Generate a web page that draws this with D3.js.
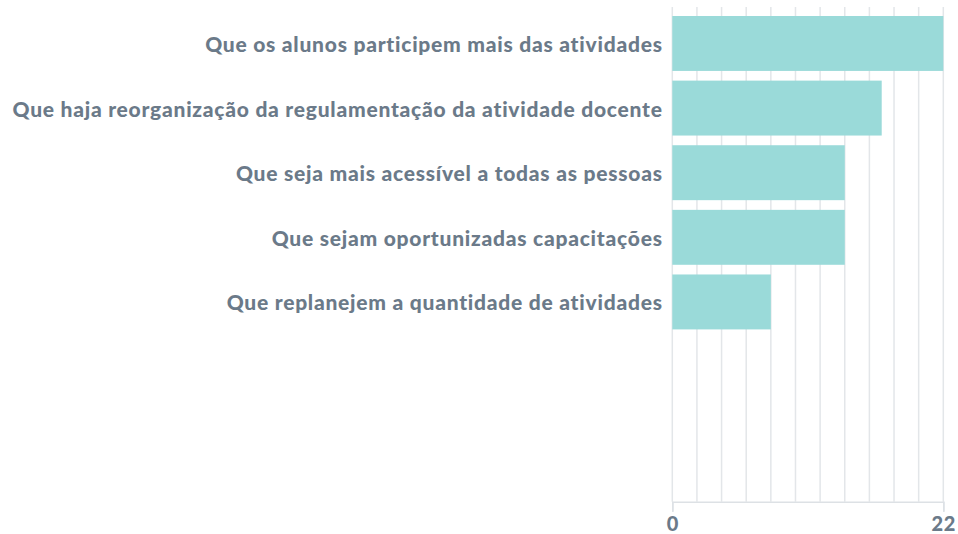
<!DOCTYPE html>
<html>
<head>
<meta charset="utf-8">
<script src="https://cdn.jsdelivr.net/npm/d3@7"></script>
<style>
  html, body { margin: 0; padding: 0; background: #ffffff; }
  svg { display: block; }
  text { font-family: Lato, "Open Sans", sans-serif; font-weight: 900; fill: #6b7a89; }
</style>
</head>
<body>
<svg id="chart" width="958" height="534"></svg>
<script>
// Responses: what should change in the activities
const categories = [
  "Que os alunos participem mais das atividades",
  "Que haja reorganização da regulamentação da atividade docente",
  "Que seja mais acessível a todas as pessoas",
  "Que sejam oportunizadas capacitações",
  "Que replanejem a quantidade de atividades"
];
const values = [22, 17, 14, 14, 8];
const axisMax = 22;
const tickLabels = [0, 22];
const gridStep = 2;

const svg = d3.select("#chart");
const plotLeft = 672.3, plotRight = 943.3, plotTop = 7, plotBottom = 501.7;

const x = d3.scaleLinear().domain([0, axisMax]).range([plotLeft, plotRight]);
const y = d3.scaleBand()
  .domain(categories)
  .range([16, 329.4])
  .paddingInner(0.15)
  .paddingOuter(0);

// vertical gridlines every 2 units
const gridVals = d3.range(0, axisMax + 0.001, gridStep);
svg.append("g")
  .selectAll("line")
  .data(gridVals)
  .join("line")
  .attr("x1", d => x(d)).attr("x2", d => x(d))
  .attr("y1", plotTop).attr("y2", plotBottom)
  .attr("stroke", "#e3e6e9")
  .attr("stroke-width", 1.5);

// bars
svg.append("g")
  .selectAll("rect")
  .data(values)
  .join("rect")
  .attr("x", x(0))
  .attr("y", (d, i) => y(categories[i]))
  .attr("width", d => x(d) - x(0))
  .attr("height", y.bandwidth())
  .attr("fill", "#9adad9");

// category labels
svg.append("g")
  .selectAll("text")
  .data(categories)
  .join("text")
  .attr("x", 662.7)
  .attr("y", d => y(d) + y.bandwidth() / 2)
  .attr("text-anchor", "end")
  .attr("dominant-baseline", "central")
  .style("font-size", "21px")
  .style("letter-spacing", "0.75px")
  .text(d => d);

// bottom axis
const axis = d3.axisBottom(x).tickValues(tickLabels).tickSize(10).tickPadding(5).tickFormat(d3.format("d"));
const gAxis = svg.append("g").attr("transform", `translate(0,${plotBottom})`).call(axis);
gAxis.select(".domain").attr("stroke", "#dde1e5").attr("stroke-width", 1.5);
gAxis.selectAll(".tick line").attr("stroke", "#dde1e5").attr("stroke-width", 1.5);
gAxis.selectAll(".tick text")
  .style("font-size", "20px")
  .style("letter-spacing", "0.6px")
  .style("font-family", "Lato, sans-serif")
  .style("font-weight", "900")
  .attr("fill", "#6b7a89");
</script>
</body>
</html>
